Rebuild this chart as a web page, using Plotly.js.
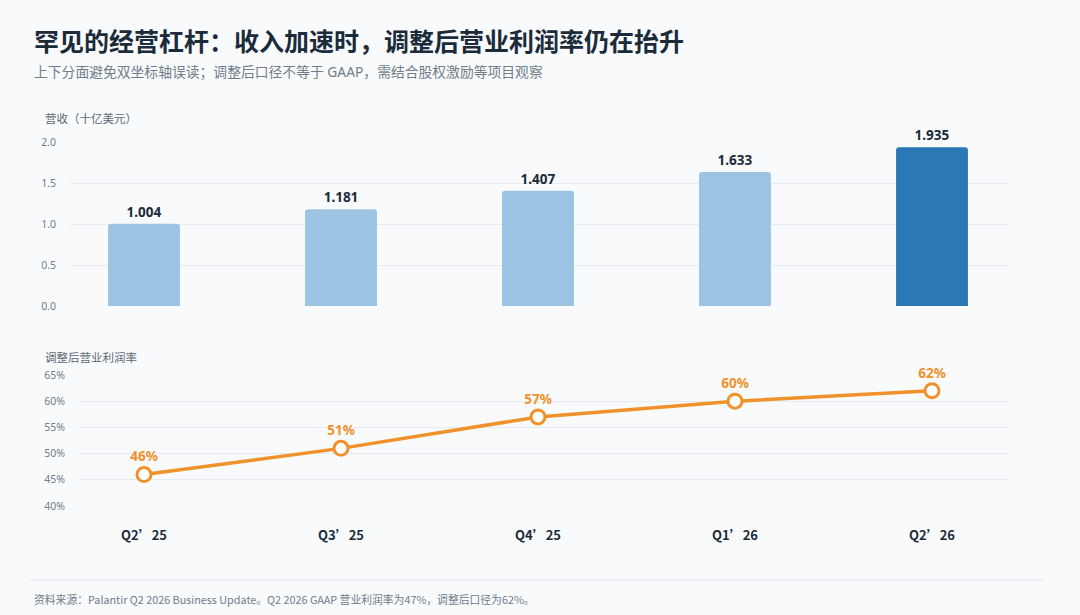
<!DOCTYPE html>
<html>
<head>
<meta charset="utf-8">
<script src="https://cdn.plot.ly/plotly-3.0.1.min.js"></script>
<style>
  html, body { margin: 0; padding: 0; background: #f8fafc; }
  #chart { width: 1080px; height: 615px; }
</style>
</head>
<body>
<div id="chart"></div>
<script>
const quarters = ['Q2’25', 'Q3’25', 'Q4’25', 'Q1’26', 'Q2’26'];
const revenue = [1.004, 1.181, 1.407, 1.633, 1.935];        // 十亿美元
const adjMargin = [46, 51, 57, 60, 62];                      // %
const barColors = ['#9dc3e2', '#9dc3e2', '#9dc3e2', '#9dc3e2', '#2b78b5'];
const revTicks = [0, 0.5, 1.0, 1.5, 2.0];
const marginTicks = [40, 45, 50, 55, 60, 65];

const W = 1080, H = 615;
const px = (x) => x / W;
const py = (y) => 1 - y / H;

const font = 'Noto Sans, Noto Sans CJK SC, sans-serif';
const cjk = 'Noto Sans CJK SC, Noto Sans, sans-serif';
const navy = '#1c2b3a';
const grey = '#717d8a';
const orange = '#f0922b';
const grid = '#e6ebf1';

// 类目中心 144 → 932 px，间距 197 px
const slot = 197, c0 = 144;
const xr = (left, right) => [(left - c0) / slot, (right - c0) / slot];

const revTrace = {
    type: 'bar',
    x: quarters,
    y: revenue,
    marker: { color: barColors },
    width: 0.365,
    text: revenue.map(v => v.toFixed(3)),
    textposition: 'outside',
    textfont: { family: font, size: 13.5, color: navy, weight: 'bold' },
    cliponaxis: false,
    xaxis: 'x',
    yaxis: 'y',
    showlegend: false
};

const marginTrace = {
    type: 'scatter',
    mode: 'lines+markers+text',
    x: quarters,
    y: adjMargin,
    line: { color: orange, width: 3.5 },
    marker: { size: 14, color: '#ffffff', line: { color: orange, width: 3 } },
    text: adjMargin.map(v => v + '%'),
    textposition: 'top center',
    textfont: { family: font, size: 13.5, color: orange, weight: 'bold' },
    cliponaxis: false,
    xaxis: 'x2',
    yaxis: 'y2',
    showlegend: false
};

const layout = {
    width: W,
    height: H,
    margin: { l: 0, r: 0, t: 0, b: 0 },
    paper_bgcolor: '#f8fafc',
    plot_bgcolor: '#f8fafc',
    font: { family: font, color: grey },
    barcornerradius: 3,
    xaxis: {
        type: 'category',
        domain: [px(70), px(1008)],
        range: xr(70, 1008),
        showticklabels: false,
        showgrid: false,
        zeroline: false,
        showline: false,
        ticks: '',
        anchor: 'y'
    },
    yaxis: {
        domain: [py(306), py(142)],
        range: [0, 2.0],
        tickvals: revTicks,
        ticktext: revTicks.map(v => v.toFixed(1)),
        tickfont: { size: 10.5, color: grey },
        gridcolor: grid,
        gridwidth: 1,
        zeroline: false,
        showline: false,
        ticks: '',
        ticklabelstandoff: 13,
        anchor: 'x'
    },
    xaxis2: {
        type: 'category',
        domain: [px(80), px(1008)],
        range: xr(80, 1008),
        tickfont: { family: cjk, size: 13, color: navy, weight: 'bold' },
        showgrid: false,
        zeroline: false,
        showline: false,
        ticks: '',
        ticklabelstandoff: 20,
        anchor: 'y2'
    },
    yaxis2: {
        domain: [py(506), py(375)],
        range: [40, 65],
        tickvals: marginTicks,
        ticktext: marginTicks.map(v => v + '%'),
        tickfont: { size: 10.5, color: grey },
        gridcolor: grid,
        gridwidth: 1,
        zeroline: false,
        showline: false,
        ticks: '',
        ticklabelstandoff: 14,
        anchor: 'x2'
    },
    shapes: [
        {
            type: 'line', xref: 'paper', yref: 'paper',
            x0: px(30), x1: px(1045), y0: py(580), y1: py(580),
            line: { color: '#e3e8ee', width: 1 }
        }
    ],
    annotations: [
        {
            text: '罕见的经营杠杆：收入加速时，调整后营业利润率仍在抬升',
            xref: 'paper', yref: 'paper', x: px(32), y: py(40),
            xanchor: 'left', yanchor: 'middle', showarrow: false,
            font: { family: cjk, size: 25, color: navy, weight: 'bold' }
        },
        {
            text: '上下分面避免双坐标轴误读；调整后口径不等于 GAAP，需结合股权激励等项目观察',
            xref: 'paper', yref: 'paper', x: px(32), y: py(71),
            xanchor: 'left', yanchor: 'middle', showarrow: false,
            font: { size: 13.8, color: grey }
        },
        {
            text: '营收（十亿美元）',
            xref: 'paper', yref: 'paper', x: px(43), y: py(118),
            xanchor: 'left', yanchor: 'middle', showarrow: false,
            font: { size: 11.5, color: '#5d6975' }
        },
        {
            text: '调整后营业利润率',
            xref: 'paper', yref: 'paper', x: px(43), y: py(357),
            xanchor: 'left', yanchor: 'middle', showarrow: false,
            font: { size: 11.5, color: '#5d6975' }
        },
        {
            text: '资料来源：Palantir Q2 2026 Business Update。Q2 2026 GAAP 营业利润率为47%，调整后口径为62%。',
            xref: 'paper', yref: 'paper', x: px(32), y: py(599),
            xanchor: 'left', yanchor: 'middle', showarrow: false,
            font: { family: cjk, size: 10.8, color: grey }
        }
    ]
};

Plotly.newPlot('chart', [revTrace, marginTrace], layout, { displayModeBar: false, staticPlot: true });
</script>
</body>
</html>
